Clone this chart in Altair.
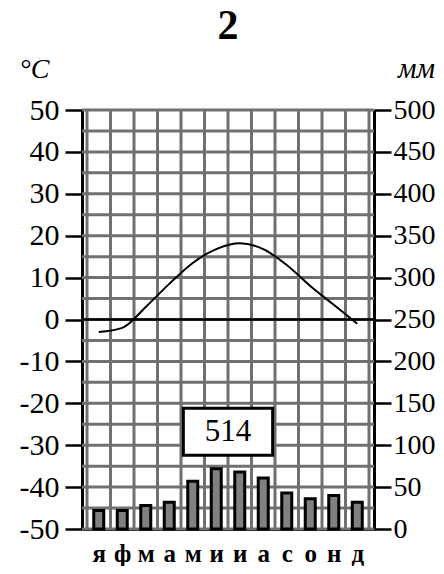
import json
import altair as alt
import pandas as pd

# ---- data ----
months = ["я", "ф", "м", "а", "м", "и", "и", "а", "с", "о", "н", "д"]
temps = [-3, -2, 3, 8.5, 13.5, 16.8, 18.2, 16.8, 13, 8, 3.5, -1]
precip = [22, 22, 28, 32, 57, 72, 68, 61, 43, 36, 40, 32]
total_precip = "514"
panel_title = "2"

temp_ticks = list(range(-50, 51, 10))
mm_ticks = list(range(0, 501, 50))
h_grid = list(range(-50, 51, 5))
v_grid = list(range(0, 13))

df = pd.DataFrame({"pos": [i + 0.5 for i in range(12)], "month": months,
                   "temp": temps, "precip": precip})
hg = pd.DataFrame({"t": h_grid})
vg = pd.DataFrame({"x": v_grid})
box = pd.DataFrame({"x": [4.1], "x2": [7.9], "y": [-21.2], "y2": [-32.4],
                    "xc": [6.0], "yc": [-26.8], "label": [total_precip]})

SERIF = "Liberation Serif"
GRID = "#707070"

xscale = alt.Scale(domain=[0, 12], nice=False, zero=False)
tscale = alt.Scale(domain=[-50, 50], nice=False, zero=False)
mscale = alt.Scale(domain=[0, 500], nice=False, zero=False)

label_expr = json.dumps(months, ensure_ascii=False) + "[floor(datum.value)]"
x_axis = alt.Axis(values=[i + 0.5 for i in range(12)], labelExpr=label_expr,
                  ticks=False, grid=False, title=None, domain=True,
                  domainColor="black", domainWidth=3,
                  labelFont=SERIF, labelFontSize=25, labelFontWeight="bold",
                  labelColor="black", labelBaseline="alphabetic",
                  labelPadding=32, labelFlush=False, labelOverlap=False,
                  labelBound=False)

num_expr = "datum.value < 0 ? '-' + abs(datum.value) : '' + datum.value"

left_axis = alt.Axis(values=temp_ticks, grid=False, tickSize=17, tickWidth=2.5,
                     tickColor="black", domainColor="black", domainWidth=3,
                     labelFont=SERIF, labelFontSize=30, labelColor="black",
                     labelPadding=6, labelFlush=False, labelExpr=num_expr,
                     labelOverlap=False,
                     title="°C", titleFont=SERIF, titleFontSize=28,
                     titleFontStyle="italic", titleFontWeight="normal",
                     titleAngle=0, titleAlign="center", titleBaseline="alphabetic",
                     titleX=-48, titleY=-33, titleColor="black")

right_axis = alt.Axis(values=mm_ticks, grid=False, tickSize=17, tickWidth=2.5,
                      tickColor="black", domainColor="black", domainWidth=3,
                      labelFont=SERIF, labelFontSize=28, labelColor="black",
                      labelPadding=2, labelFlush=False, orient="right",
                      labelOverlap=False,
                      title="мм", titleFont=SERIF, titleFontSize=29,
                      titleFontStyle="italic", titleFontWeight="normal",
                      titleAngle=0, titleAlign="center", titleBaseline="alphabetic",
                      titleX=42, titleY=-33, titleColor="black")

hgrid = alt.Chart(hg).mark_rule(color=GRID, strokeWidth=3).encode(
    y=alt.Y("t:Q", scale=tscale, axis=left_axis))
vgrid = alt.Chart(vg).mark_rule(color=GRID, strokeWidth=3).encode(
    x=alt.X("x:Q", scale=xscale, axis=x_axis))
zero = alt.Chart(pd.DataFrame({"t": [0]})).mark_rule(color="black", strokeWidth=2.5).encode(
    y=alt.Y("t:Q", scale=tscale, axis=left_axis))
line = alt.Chart(df).mark_line(color="black", strokeWidth=2, interpolate="monotone").encode(
    x=alt.X("pos:Q", scale=xscale, axis=x_axis),
    y=alt.Y("temp:Q", scale=tscale, axis=left_axis))
rect = alt.Chart(box).mark_rect(fill="white", stroke="black", strokeWidth=3).encode(
    x=alt.X("x:Q", scale=xscale, axis=x_axis), x2="x2:Q",
    y=alt.Y("y:Q", scale=tscale, axis=left_axis), y2="y2:Q")
rtext = alt.Chart(box).mark_text(font=SERIF, fontSize=31, color="black",
                                 baseline="middle", align="center").encode(
    x=alt.X("xc:Q", scale=xscale, axis=x_axis),
    y=alt.Y("yc:Q", scale=tscale, axis=left_axis), text="label:N")
title = alt.Chart(box).mark_text(font=SERIF, fontSize=42, fontWeight="bold",
                                 color="black", baseline="alphabetic", align="center").encode(
    x=alt.value(146), y=alt.value(-71), text=alt.value(panel_title))

temp_group = alt.layer(hgrid, vgrid, zero, line, rect, rtext, title)

bars = alt.Chart(df).mark_bar(fill="#808080", stroke="black", strokeWidth=3, size=10).encode(
    x=alt.X("pos:Q", scale=xscale, axis=x_axis),
    y=alt.Y("precip:Q", scale=mscale, axis=right_axis))

chart = alt.layer(temp_group, bars).resolve_scale(y="independent").properties(
    width=292, height=419,
    autosize=alt.AutoSizeParams(type="none"),
    padding={"left": 74, "top": 102, "right": 62, "bottom": 37},
).configure_view(stroke=None).configure(background="white")

chart.save("out.html", embed_options={"renderer": "svg", "actions": False})
